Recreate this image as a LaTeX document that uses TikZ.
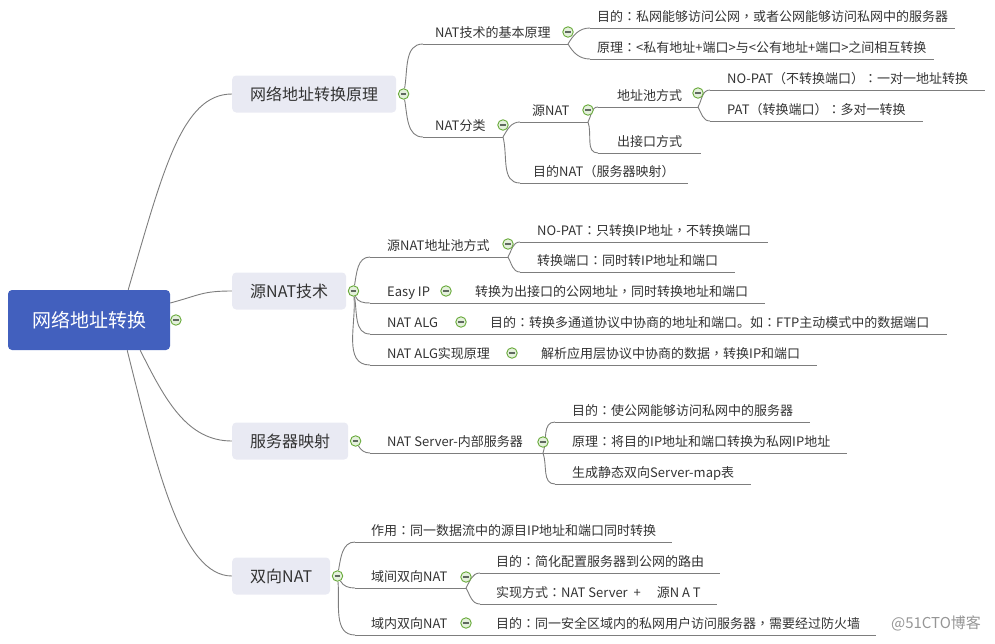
\documentclass[tikz,border=0pt]{standalone}
\usepackage{fontspec}
\setmainfont{Noto Sans CJK SC}
\newfontfamily\tcfont{Noto Sans CJK TC}
\usetikzlibrary{positioning, backgrounds}
\definecolor{rootblue}{RGB}{66, 96, 190}
\definecolor{mainfill}{RGB}{233, 234, 243}
\definecolor{textgray}{RGB}{51, 51, 51}
\definecolor{linegray}{RGB}{125, 125, 125}
\definecolor{foldgreen}{RGB}{104, 170, 58}
\definecolor{foldfill}{RGB}{228, 240, 220}
\definecolor{markgray}{RGB}{95, 105, 95}
\definecolor{wmgray}{RGB}{150, 150, 150}
\newcommand{\fsz}[1]{\fontsize{#1pt}{#1pt}\selectfont}
\newcommand{\zhcolon}{{\tcfont ：}}
\newcommand{\zhcomma}{{\tcfont ，}}
\tikzset{
  rootbox/.style={rectangle, rounded corners=4pt, fill=rootblue, text=white,
                  minimum width=162pt, minimum height=60pt, font=\fsz{19}},
  mainbox/.style={rectangle, rounded corners=4pt, fill=mainfill, text=textgray,
                  minimum height=37pt, inner xsep=18pt, anchor=west, font=\fsz{16}},
  topic/.style={anchor=south west, inner xsep=#1, inner ysep=3pt, text height=10pt,
                text depth=3pt, text=textgray, font=\fsz{13}},
  topic/.default=17pt,
  leaf/.style={topic=#1, append after command={(\tikzlastnode.south west) edge[uline] (\tikzlastnode.south east)}},
  leaf/.default=17pt,
  fold/.style={circle, draw=foldgreen, fill=foldfill, line width=0.9pt, minimum size=10.5pt, inner sep=0pt,
               path picture={\draw[markgray, line width=1.1pt]
                 ([xshift=-2.8pt]path picture bounding box.center) -- ([xshift=2.8pt]path picture bounding box.center);}},
  linkline/.style={draw=linegray, line width=0.9pt},
  uline/.style={draw=linegray, line width=1pt},
  wmark/.style={text=wmgray, font=\fsz{15}},
}
\begin{document}
\begin{tikzpicture}[x=1pt, y=-1pt]
  \useasboundingbox (0,0) rectangle (995,643);

  % root
  \node[rootbox] (root) at (89,320) {网络地址转换};
  \node[fold, right=0pt of root] (froot) {};

  % main topics
  \node[mainbox] (m1) at (232,94) {网络地址转换原理};
  \node[mainbox] (m2) at (232,291) {源NAT技术};
  \node[mainbox] (m3) at (232,441) {服务器映射};
  \node[mainbox] (m4) at (232,576) {双向NAT};
  \node[fold, right=1.5pt of m1] (f1) {};
  \node[fold, right=1.5pt of m2] (f2) {};
  \node[fold, right=1.5pt of m3] (f3) {};
  \node[fold, right=1.5pt of m4] (f4) {};

  % 网络地址转换原理
  \node[topic=12pt] (n11) at (423,44) {NAT技术的基本原理};
  \node[fold] (f11) at (568,32) {};
  \node[leaf=7pt] (n111) at (590,28) {目的\zhcolon 私网能够访问公网\zhcomma 或者公网能够访问私网中的服务器};
  \node[leaf=7pt] (n112) at (590,59) {原理\zhcolon <私有地址+端口>与<公有地址+端口>之间相互转换};
  \node[topic=12pt] (n12) at (423,137) {NAT分类};
  \node[fold] (f12) at (503,125) {};
  \node[topic=12pt] (n121) at (520,122) {源NAT};
  \node[fold] (f121) at (588,110) {};
  \node[topic=19pt] (n1211) at (598,107) {地址池方式};
  \node[fold] (f1211) at (698,93) {};
  \node[leaf] (n12111) at (710,90) {NO-PAT（不转换端口）\zhcolon 一对一地址转换};
  \node[leaf] (n12112) at (710,121) {PAT（转换端口）\zhcolon 多对一转换};
  \node[leaf=19pt] (n1212) at (598,153) {出接口方式};
  \node[leaf=13pt] (n122) at (520,183) {目的NAT（服务器映射）};

  % 源NAT技术
  \node[topic] (n21) at (370,257) {源NAT地址池方式};
  \node[fold] (f21) at (508,244) {};
  \node[leaf] (n211) at (520,242) {NO-PAT\zhcolon 只转换IP地址\zhcomma 不转换端口};
  \node[leaf] (n212) at (520,272) {转换端口\zhcolon 同时转IP地址和端口};
  \node[topic] (n22) at (370,303) {Easy IP};
  \node[fold] (f22) at (446,291) {};
  \node[leaf] (n221) at (458,303) {转换为出接口的公网地址\zhcomma 同时转换地址和端口};
  \node[topic] (n23) at (370,334) {NAT ALG};
  \node[fold] (f23) at (461,322) {};
  \node[leaf] (n231) at (473,334) {目的\zhcolon 转换多通道协议中协商的地址和端口。如\zhcolon FTP主动模式中的数据端口};
  \node[topic] (n24) at (370,365) {NAT ALG实现原理};
  \node[fold] (f24) at (512,353) {};
  \node[leaf] (n241) at (524,365) {解析应用层协议中协商的数据\zhcomma 转换IP和端口};

  % 服务器映射
  \node[topic] (n31) at (370,453) {NAT Server-内部服务器};
  \node[fold] (f31) at (543,442) {};
  \node[leaf] (n311) at (555,422) {目的\zhcolon 使公网能够访问私网中的服务器};
  \node[leaf] (n312) at (555,453) {原理\zhcolon 将目的IP地址和端口转换为私网IP地址};
  \node[leaf] (n313) at (555,484) {生成静态双向Server-map表};

  % 双向NAT
  \node[leaf=16pt] (n41) at (355,542) {作用\zhcolon 同一数据流中的源目IP地址和端口同时转换};
  \node[topic=16pt] (n42) at (355,588) {域间双向NAT};
  \node[fold] (f42) at (466,577) {};
  \node[leaf=16pt] (n421) at (480,573) {目的\zhcolon 简化配置服务器到公网的路由};
  \node[leaf=16pt] (n422) at (480,604) {实现方式\zhcolon NAT Server\ \ +\hspace{16pt}源N A T};
  \node[topic=16pt] (n43) at (355,635) {域内双向NAT};
  \node[fold] (f43) at (466,623) {};
  \node[leaf=16pt] (n431) at (480,635) {目的\zhcolon 同一安全区域内的私网用户访问服务器\zhcomma 需要经过防火墙};

  \node[wmark] (wm) at (936,623) {@51CTO博客};

  \begin{scope}[on background layer]
    % root to main topics
    \draw[linkline] ([xshift=-42pt]root.north east) .. controls +(35,-120) and +(-50,0) .. (m1.west);
    \draw[linkline] ([yshift=17pt]root.east) .. controls +(30,-8) and +(-30,0) .. (m2.west);
    \draw[linkline] ([xshift=-30pt]root.south east) .. controls +(25,50) and +(-45,0) .. (m3.west);
    \draw[linkline] ([xshift=-43pt]root.south east) .. controls +(30,120) and +(-50,0) .. (m4.west);

    % parent underlines
    \foreach \n/\f in {n11/f11, n12/f12, n121/f121, n1211/f1211, n21/f21, n22/f22, n23/f23, n24/f24, n31/f31, n42/f42, n43/f43}
      \draw[uline] (\n.south west) -- (\f |- \n.south);

    % 网络地址转换原理
    \draw[linkline] (f1) to[out=80, in=180] (n11.south west);
    \draw[linkline] (f1) to[out=-80, in=180] (n12.south west);
    \draw[linkline] (f11 |- n11.south) to[out=60, in=180] (n111.south west);
    \draw[linkline] (f11 |- n11.south) to[out=-60, in=180] (n112.south west);
    \draw[linkline] (f12 |- n12.south) to[out=60, in=180] (n121.south west);
    \draw[linkline] (f12 |- n12.south) to[out=-75, in=180] (n122.south west);
    \draw[linkline] (f121 |- n121.south) to[out=60, in=180] (n1211.south west);
    \draw[linkline] (f121 |- n121.south) to[out=-70, in=180] (n1212.south west);
    \draw[linkline] (f1211 |- n1211.south) to[out=60, in=180] (n12111.south west);
    \draw[linkline] (f1211 |- n1211.south) to[out=-60, in=180] (n12112.south west);

    % 源NAT技术
    \draw[linkline] (f2) to[out=80, in=180] (n21.south west);
    \draw[linkline] (f2) to[out=-70, in=180] (n22.south west);
    \draw[linkline] (f2) to[out=-80, in=180] (n23.south west);
    \draw[linkline] (f2) to[out=-85, in=180] (n24.south west);
    \draw[linkline] (f21 |- n21.south) to[out=60, in=180] (n211.south west);
    \draw[linkline] (f21 |- n21.south) to[out=-60, in=180] (n212.south west);
    \draw[linkline] (f22 |- n22.south) -- (n221.south west);
    \draw[linkline] (f23 |- n23.south) -- (n231.south west);
    \draw[linkline] (f24 |- n24.south) -- (n241.south west);

    % 服务器映射
    \draw[linkline] (f3) to[out=-60, in=180] (n31.south west);
    \draw[linkline] (f31 |- n31.south) to[out=70, in=180] (n311.south west);
    \draw[linkline] (f31 |- n31.south) -- (n312.south west);
    \draw[linkline] (f31 |- n31.south) to[out=-70, in=180] (n313.south west);

    % 双向NAT
    \draw[linkline] (f4) to[out=80, in=180] (n41.south west);
    \draw[linkline] (f4) to[out=-60, in=180] (n42.south west);
    \draw[linkline] (f4) to[out=-85, in=180] (n43.south west);
    \draw[linkline] (f42 |- n42.south) to[out=60, in=180] (n421.south west);
    \draw[linkline] (f42 |- n42.south) to[out=-60, in=180] (n422.south west);
    \draw[linkline] (f43 |- n43.south) -- (n431.south west);
  \end{scope}
\end{tikzpicture}
\end{document}
